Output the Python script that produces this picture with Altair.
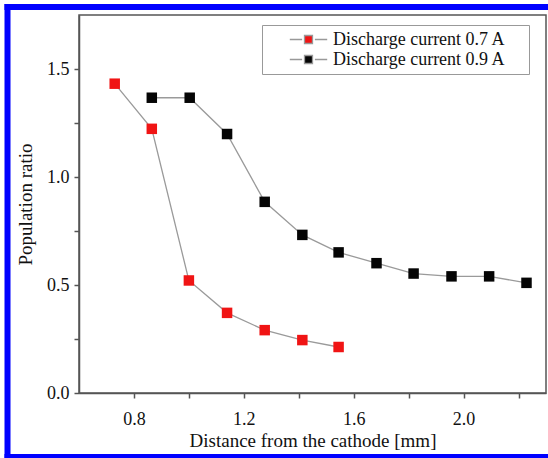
import altair as alt
import pandas as pd

series_07 = "Discharge current 0.7 A"
series_09 = "Discharge current 0.9 A"

x_07 = [0.73, 0.865, 1.0, 1.139, 1.276, 1.413, 1.545]
y_07 = [1.432, 1.223, 0.521, 0.371, 0.291, 0.245, 0.213]

x_09 = [0.865, 1.003, 1.139, 1.276, 1.413, 1.545, 1.683, 1.818, 1.956, 2.093, 2.229]
y_09 = [1.367, 1.367, 1.199, 0.885, 0.732, 0.651, 0.601, 0.553, 0.540, 0.540, 0.510]

x_ticks = [0.8, 1.0, 1.2, 1.4, 1.6, 1.8, 2.0, 2.2]
y_ticks = [0.0, 0.25, 0.5, 0.75, 1.0, 1.25, 1.5]

df = pd.DataFrame(
    {
        "x": x_07 + x_09,
        "y": y_07 + y_09,
        "series": [series_07] * len(x_07) + [series_09] * len(x_09),
    }
)

FONT = "Liberation Serif"
AX = "#555555"
BLUE = "#0000ff"

xenc = alt.X(
    "x:Q",
    scale=alt.Scale(domain=[0.6, 2.3], nice=False, zero=False),
    axis=alt.Axis(
        title="Distance from the cathode [mm]",
        values=x_ticks,
        labelExpr="round(datum.value*10) % 4 == 0 ? format(datum.value, '.1f') : ''",
        grid=False,
        tickSize=5,
        labelPadding=12,
        titlePadding=3,
    ),
)
yenc = alt.Y(
    "y:Q",
    scale=alt.Scale(domain=[0, 1.75], nice=False),
    axis=alt.Axis(
        title="Population ratio",
        values=y_ticks,
        labelExpr="round(datum.value*4) % 2 == 0 ? format(datum.value, '.1f') : ''",
        grid=False,
        tickSize=5,
        labelPadding=5,
        titlePadding=11,
    ),
)

lines = alt.Chart(df).mark_line(color="#9a9a9a", strokeWidth=1.3).encode(
    x=xenc, y=yenc, detail="series:N", order="x:Q"
)

# line - square - line symbol, wider than the nominal symbol size
legend_symbol = "M-2.2,0H-0.75M0.75,0H2.2M-0.47,-0.47H0.47V0.47H-0.47Z"

points = alt.Chart(df).mark_square(size=110, opacity=1).encode(
    x=xenc,
    y=yenc,
    color=alt.Color(
        "series:N",
        scale=alt.Scale(domain=[series_07, series_09], range=["#f01414", "#050505"]),
        legend=alt.Legend(
            title=None,
            orient="none",
            legendX=183,
            legendY=10,
            symbolType=legend_symbol,
            symbolSize=289,
            symbolStrokeColor="#999999",
            symbolStrokeWidth=1.3,
            symbolOffset=32,
            labelFont=FONT,
            labelFontSize=18,
            labelColor="#111111",
            labelOffset=15,
            labelLimit=400,
            labelExpr="datum.label + '\u00a0\u2800'",
            strokeColor="#999999",
            fillColor="white",
            padding=5,
            rowPadding=1,
        ),
    ),
)

frame_src = alt.Chart(pd.DataFrame({"k": [0]}))
left_border = frame_src.mark_rule(color=BLUE, strokeWidth=6).encode(
    x=alt.value(-71.5), y=alt.value(-11), y2=alt.value(443)
)
top_border = frame_src.mark_rule(color=BLUE, strokeWidth=6).encode(
    y=alt.value(-8), x=alt.value(-74.5), x2=alt.value(469)
)
bottom_border = frame_src.mark_rule(color=BLUE, strokeWidth=6).encode(
    y=alt.value(442), x=alt.value(-74.5), x2=alt.value(469)
)

chart = (
    alt.layer(lines, points, left_border, top_border, bottom_border)
    .properties(
        width=467,
        height=378,
        autosize=alt.AutoSizeParams(type="none"),
        padding={"left": 79, "top": 15, "right": 2, "bottom": 65},
        background="white",
    )
    .configure_view(stroke=AX, strokeWidth=1.5)
    .configure_axis(
        labelFont=FONT,
        titleFont=FONT,
        labelFontSize=18,
        titleFontSize=19,
        titleFontWeight="normal",
        labelColor="#111111",
        titleColor="#111111",
        domainColor=AX,
        domainWidth=1.5,
        tickColor=AX,
        tickWidth=1.5,
    )
)

chart.save("out.html", embed_options={"renderer": "svg", "actions": False})
